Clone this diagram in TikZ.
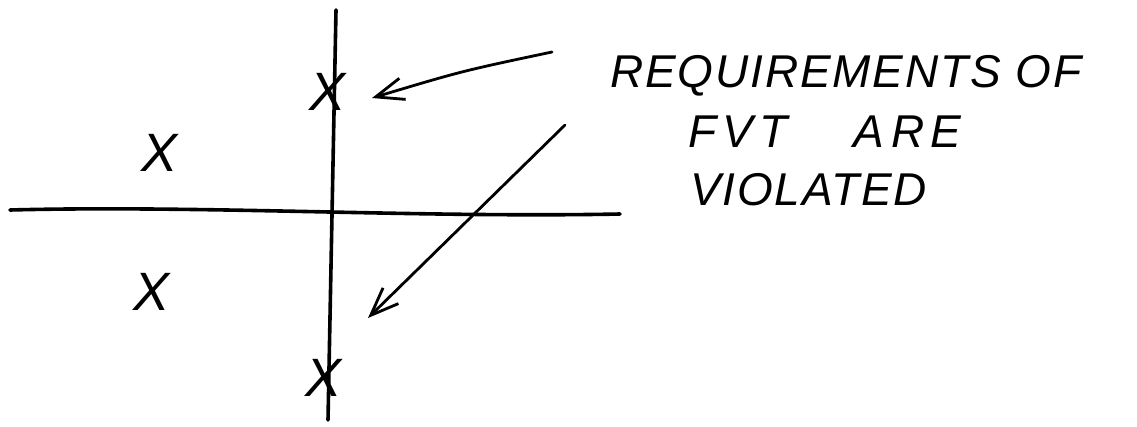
\documentclass[tikz,border=0pt]{standalone}
\usepackage{fontspec}
\setmainfont{Liberation Sans}
\usetikzlibrary{arrows.meta}
\begin{document}
\begin{tikzpicture}[x=1pt,y=-1pt,
  axis/.style={line width=3.6pt,line cap=round},
  pointer/.style={line width=2.8pt,line cap=round,-{Straight Barb[length=28pt,width=22pt,line width=2.8pt]}},
  pole/.style={font=\fontsize{54}{54}\selectfont\itshape,inner sep=0pt},
  note/.style={font=\fontsize{46}{46}\selectfont\itshape\addfontfeature{LetterSpace=4},inner sep=0pt,anchor=west}]
\useasboundingbox (0,0) rectangle (1137,426);
% axes
\coordinate (hl) at (10,210);
\coordinate (hr) at (620,214);
\coordinate (vt) at (336,10);
\coordinate (vb) at (328,420);
\draw[axis] (hl) .. controls (200,205) and (420,218) .. (hr);
\draw[axis] (vt) -- (vb);
% poles
\node[pole] (ptop) at (328,92) {X};
\node[pole] (pbot) at (324,378) {X};
\node[pole] (pul) at (160,153) {X};
\node[pole] (pll) at (152,292) {X};
% text
\node[note] (t1) at (610,76) {REQUIREMENTS OF};
\node[note,font=\fontsize{46}{46}\selectfont\itshape\addfontfeature{LetterSpace=14}] (t2) at (688,132) {FVT\hspace{66pt}ARE};
\node[note] (t3) at (690,190) {VIOLATED};
% arrows
\coordinate (a1s) at (552,52);
\coordinate (a1e) at (372,98);
\coordinate (a2s) at (565,125);
\coordinate (a2e) at (368,318);
\draw[pointer] (a1s) .. controls (462,71) .. (a1e);
\draw[pointer] (a2s) -- (a2e);
\end{tikzpicture}
\end{document}
